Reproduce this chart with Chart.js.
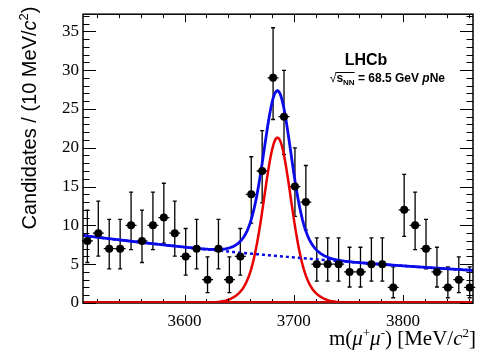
<!DOCTYPE html>
<html>
<head>
<meta charset="utf-8">
<script src="https://cdn.jsdelivr.net/npm/chart.js@4.4.0/dist/chart.umd.min.js"></script>
<style>
html, body { margin: 0; padding: 0; background: #fff; }
</style>
</head>
<body>
<canvas id="mass-chart" width="477" height="352"></canvas>
<script>
// ---------------- Data ----------------
const binCenters = [3511, 3521, 3531, 3541, 3551, 3561, 3571, 3581, 3591, 3601, 3611, 3621,
                    3631, 3641, 3651, 3661, 3671, 3681, 3691, 3701, 3711, 3721, 3731, 3741,
                    3751, 3761, 3771, 3781, 3791, 3801, 3811, 3821, 3831, 3841, 3851, 3861];
const candidates = [8, 9, 7, 7, 10, 8, 10, 11, 9, 6, 7, 3,
                    7, 3, 6, 14, 17, 29, 24, 15, 13, 5, 5, 5,
                    4, 4, 5, 5, 2, 12, 10, 7, 4, 2, 3, 2];
const xTickLabels = [3600, 3700, 3800];
const yTickLabels = [0, 5, 10, 15, 20, 25, 30, 35];

// fit result: double gaussian signal + exponential background (per 10 MeV bin)
const sigPeak = 21.3, sigMean = 3685;
const coreWidth = 11.5, tailWidth = 20, coreFrac = 0.75;
const bkgNorm = 8.7, bkgSlope = -0.00204, bkgRef = 3507;
const massMin = 3507, massMax = 3864, yMax = 37.2;
const binHalf = 5;

// Poisson-style asymmetric errors on the counts
const errLow = candidates.map(n => n > 0 ? Math.sqrt(n - 0.25) : 0);
const errHigh = candidates.map(n => Math.sqrt(n + 0.75) + 1);

// fit curves evaluated over the mass range
const gauss = (m, w) => Math.exp(-0.5 * Math.pow((m - sigMean) / w, 2));
const signal = m => sigPeak * (coreFrac * gauss(m, coreWidth) + (1 - coreFrac) * gauss(m, tailWidth));
const background = m => bkgNorm * Math.exp(bkgSlope * (m - bkgRef));
const sigCurve = [], bkgCurve = [], totCurve = [];
for (let m = massMin; m <= massMax; m += 1) {
    sigCurve.push({x: m, y: signal(m)});
    bkgCurve.push({x: m, y: background(m)});
    totCurve.push({x: m, y: signal(m) + background(m)});
}

const points = binCenters.map((m, i) => ({x: m, y: candidates[i]}));

// ---------------- helpers ----------------
const serif = '"Liberation Serif", "Times New Roman", serif';
const sans = '"Liberation Sans", Arial, sans-serif';

function richWidth(ctx, parts) {
    let w = 0;
    parts.forEach(p => { ctx.font = p.font; w += ctx.measureText(p.t).width; });
    return w;
}
function drawRich(ctx, parts, x, y) {
    parts.forEach(p => {
        ctx.font = p.font;
        ctx.fillText(p.t, x, y + (p.dy || 0));
        x += ctx.measureText(p.t).width;
    });
    return x;
}

// ---------------- frame, inner ticks, labels, error bars ----------------
const decorations = {
    id: 'decorations',
    beforeDatasetsDraw(chart) {
        const ctx = chart.ctx;
        const xs = chart.scales.x, ys = chart.scales.y;
        ctx.save();
        ctx.strokeStyle = '#000';
        ctx.lineWidth = 1.3;
        binCenters.forEach((m, i) => {
            const n = candidates[i];
            const px = xs.getPixelForValue(m);
            const py = ys.getPixelForValue(n);
            const top = ys.getPixelForValue(n + errHigh[i]);
            const bot = ys.getPixelForValue(n - errLow[i]);
            ctx.beginPath();
            ctx.moveTo(px, top); ctx.lineTo(px, bot);
            ctx.moveTo(px - 2, top); ctx.lineTo(px + 2, top);
            ctx.moveTo(px - 2, bot); ctx.lineTo(px + 2, bot);
            ctx.moveTo(xs.getPixelForValue(m - binHalf), py);
            ctx.lineTo(xs.getPixelForValue(m + binHalf), py);
            ctx.stroke();
        });
        ctx.restore();
    },
    afterDraw(chart) {
        const ctx = chart.ctx;
        const a = chart.chartArea;
        const xs = chart.scales.x, ys = chart.scales.y;
        ctx.save();
        ctx.strokeStyle = '#000';
        ctx.lineWidth = 1;

        // inner ticks on all four sides
        ctx.beginPath();
        for (let v = 0; v <= yMax; v += 1) {
            const py = Math.round(ys.getPixelForValue(v)) + 0.5;
            const len = v % 5 === 0 ? 13 : 6.5;
            ctx.moveTo(a.left, py); ctx.lineTo(a.left + len, py);
            ctx.moveTo(a.right, py); ctx.lineTo(a.right - len, py);
        }
        for (let v = 3520; v <= massMax; v += 20) {
            const px = Math.round(xs.getPixelForValue(v)) + 0.5;
            const len = v % 100 === 0 ? 8 : 4;
            ctx.moveTo(px, a.bottom); ctx.lineTo(px, a.bottom - len);
            ctx.moveTo(px, a.top); ctx.lineTo(px, a.top + len);
        }
        ctx.stroke();

        // frame
        ctx.lineWidth = 1.5;
        ctx.strokeRect(a.left, a.top, a.right - a.left, a.bottom - a.top);

        // red signal curve sits on the x axis outside the peak
        ctx.strokeStyle = 'rgb(210,0,0)';
        ctx.lineWidth = 2;
        ctx.beginPath();
        ctx.moveTo(a.left + 1, a.bottom - 1);
        ctx.lineTo(a.right - 1, a.bottom - 1);
        ctx.stroke();

        ctx.fillStyle = '#000';
        ctx.textBaseline = 'alphabetic';

        // x axis title
        const xTitle = [
            {t: 'm(', font: '21px ' + serif},
            {t: '\u03bc', font: 'italic 21px ' + serif},
            {t: '+', font: '13px ' + serif, dy: -8},
            {t: '\u03bc', font: 'italic 21px ' + serif},
            {t: '-', font: '13px ' + serif, dy: -8},
            {t: ') [MeV/', font: '21px ' + serif},
            {t: 'c', font: 'italic 21px ' + serif},
            {t: '2', font: '13px ' + serif, dy: -8},
            {t: ']', font: '21px ' + serif}
        ];
        drawRich(ctx, xTitle, 476 - richWidth(ctx, xTitle), 345);

        // y axis title, rotated
        const yTitle = [
            {t: 'Candidates / (10 MeV/', font: '20px ' + sans},
            {t: 'c', font: 'italic 20px ' + sans},
            {t: '2', font: '13px ' + sans, dy: -8},
            {t: ')', font: '20px ' + sans}
        ];
        ctx.save();
        ctx.translate(36, 118);
        ctx.rotate(-Math.PI / 2);
        drawRich(ctx, yTitle, -richWidth(ctx, yTitle) / 2, 0);
        ctx.restore();

        // LHCb label
        ctx.font = 'bold 16px ' + sans;
        ctx.textAlign = 'center';
        ctx.fillText('LHCb', 366, 65);
        ctx.textAlign = 'left';

        // sqrt(s_NN) = 68.5 GeV  pNe
        const line2 = [
            {t: '\u221a', font: '12px ' + sans},
            {t: 's', font: 'bold 12px ' + sans},
            {t: 'NN', font: 'bold 8px ' + sans, dy: 3},
            {t: ' = 68.5 GeV ', font: 'bold 12px ' + sans},
            {t: 'p', font: 'bold italic 12px ' + sans},
            {t: 'Ne', font: 'bold 12px ' + sans}
        ];
        const x0 = 445 - richWidth(ctx, line2);
        drawRich(ctx, line2, x0, 82);
        ctx.font = '12px ' + sans;
        const rootW = ctx.measureText('\u221a').width;
        ctx.font = 'bold 12px ' + sans;
        const sW = ctx.measureText('s').width;
        ctx.font = 'bold 8px ' + sans;
        const nnW = ctx.measureText('NN').width;
        ctx.strokeStyle = '#000';
        ctx.lineWidth = 1;
        ctx.beginPath();
        ctx.moveTo(x0 + rootW - 1, 72.5);
        ctx.lineTo(x0 + rootW + sW + nnW, 72.5);
        ctx.stroke();

        ctx.restore();
    }
};

// ---------------- chart ----------------
const ctx = document.getElementById('mass-chart');
const massChart = new Chart(ctx, {
    type: 'scatter',
    data: {
        datasets: [{
            label: 'Data',
            data: points,
            backgroundColor: '#000',
            borderColor: '#000',
            pointRadius: 4,
            pointBorderWidth: 0,
            order: 0
        }, {
            label: 'Total fit',
            data: totCurve,
            showLine: true,
            borderColor: 'rgb(10,10,235)',
            borderWidth: 2.8,
            pointRadius: 0,
            order: 1
        }, {
            label: 'Background',
            data: bkgCurve,
            showLine: true,
            borderColor: 'rgb(10,10,235)',
            borderWidth: 2.5,
            borderDash: [3, 3],
            pointRadius: 0,
            order: 2
        }, {
            label: 'Signal',
            data: sigCurve,
            showLine: true,
            borderColor: 'rgb(232,0,0)',
            borderWidth: 2.5,
            pointRadius: 0,
            order: 3
        }]
    },
    options: {
        responsive: false,
        animation: false,
        events: [],
        layout: { padding: { top: 5, right: 1, left: 0, bottom: 0 } },
        plugins: {
            legend: { display: false },
            tooltip: { enabled: false }
        },
        scales: {
            x: {
                type: 'linear',
                min: massMin,
                max: massMax,
                grid: { display: false, drawTicks: false },
                border: { display: false },
                afterBuildTicks: s => { s.ticks = xTickLabels.map(v => ({value: v})); },
                afterFit: s => { s.height = 49; },
                ticks: {
                    color: '#000',
                    padding: 8,
                    maxRotation: 0,
                    callback: v => String(v),
                    font: { family: serif, size: 17 }
                }
            },
            y: {
                min: 0,
                max: yMax,
                grid: { display: false, drawTicks: false },
                border: { display: false },
                afterBuildTicks: s => { s.ticks = yTickLabels.map(v => ({value: v})); },
                afterFit: s => { s.width = 83; },
                ticks: {
                    color: '#000',
                    padding: 4,
                    callback: v => String(v),
                    font: { family: serif, size: 17 }
                }
            }
        }
    },
    plugins: [decorations]
});
</script>
</body>
</html>
